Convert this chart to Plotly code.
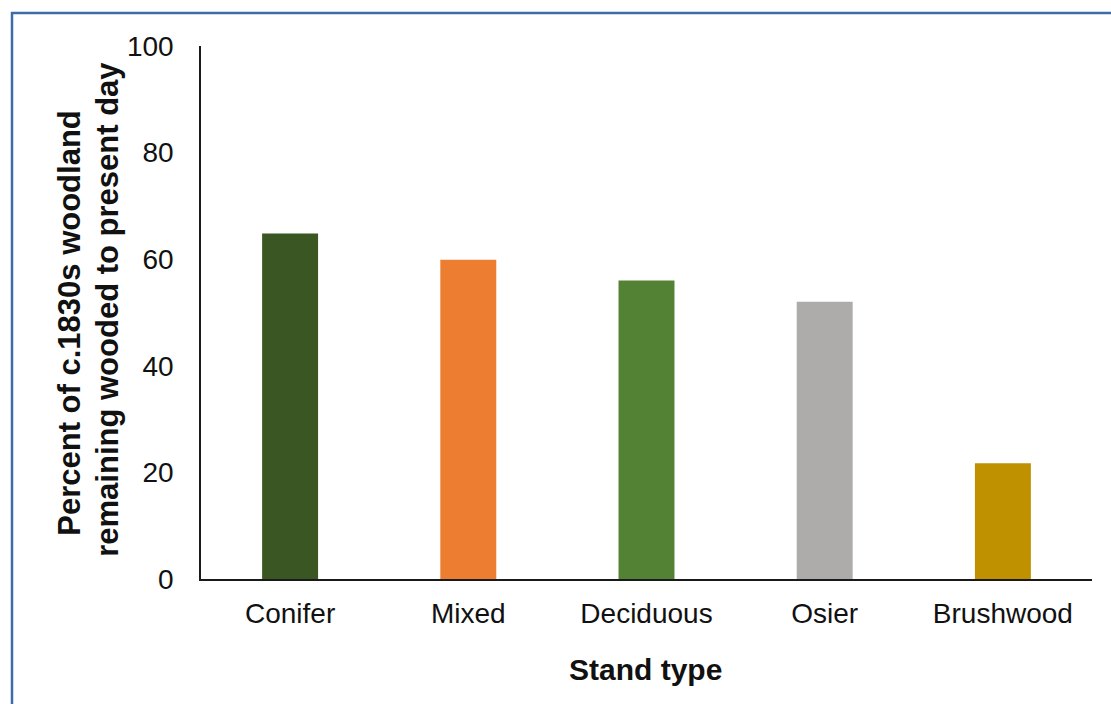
import plotly.graph_objects as go

# Stand types and share of c.1830s woodland still wooded today (%)
stand_types = ["Conifer", "Mixed", "Deciduous", "Osier", "Brushwood"]
percent_remaining = [64.8, 59.9, 56.0, 52.0, 21.7]
bar_colors = ["#3A5723", "#ED7D31", "#548235", "#AEABAB", "#BF9000"]

y_ticks = [0, 20, 40, 60, 80, 100]

W, H = 1111, 704
L, R, T, B = 201, 19, 46, 124.5
PW, PH = W - L - R, H - T - B


def px_x(px):
    return (px - L) / PW


def px_y(py):
    return (H - B - py) / PH


FONT = "Liberation Sans, Arial, sans-serif"

fig = go.Figure(
    go.Bar(
        x=stand_types,
        y=percent_remaining,
        marker=dict(color=bar_colors, line=dict(width=0)),
        hoverinfo="x+y",
    )
)

fig.update_layout(
    width=W,
    height=H,
    margin=dict(l=L, r=R, t=T, b=B, pad=0),
    paper_bgcolor="white",
    plot_bgcolor="white",
    bargap=0.686,
    showlegend=False,
    font=dict(family=FONT, color="#111111"),
)

fig.update_xaxes(
    showline=True,
    linecolor="#1a1a1a",
    linewidth=1.6,
    ticks="",
    showgrid=False,
    tickfont=dict(size=28, family=FONT, color="#111111"),
    ticklabelstandoff=9,
)

fig.update_yaxes(
    range=[0, 100],
    tickvals=y_ticks,
    showline=True,
    linecolor="#1a1a1a",
    linewidth=1.6,
    ticks="",
    showgrid=False,
    zeroline=False,
    tickfont=dict(size=28, family=FONT, color="#111111"),
    ticklabelstandoff=20,
)

# Axis titles
fig.add_annotation(
    text="<b>Percent of c.1830s woodland</b>",
    xref="paper", yref="paper",
    x=px_x(70), y=px_y(323),
    xanchor="center", yanchor="middle",
    textangle=-90, showarrow=False,
    font=dict(size=31, family=FONT, color="#111111"),
)
fig.add_annotation(
    text="<b>remaining wooded to present day</b>",
    xref="paper", yref="paper",
    x=px_x(108), y=px_y(310),
    xanchor="center", yanchor="middle",
    textangle=-90, showarrow=False,
    font=dict(size=31, family=FONT, color="#111111"),
)
fig.add_annotation(
    text="<b>Stand type</b>",
    xref="paper", yref="paper",
    x=px_x(645), y=px_y(670),
    xanchor="center", yanchor="middle",
    showarrow=False,
    font=dict(size=30, family=FONT, color="#111111"),
)

# Frame around the chart (left and top edges)
border_color = "#3F6BA8"
fig.add_shape(type="line", xref="paper", yref="paper",
              x0=px_x(12), x1=px_x(12), y0=px_y(12), y1=px_y(720),
              line=dict(color=border_color, width=2.5))
fig.add_shape(type="line", xref="paper", yref="paper",
              x0=px_x(11), x1=px_x(1130), y0=px_y(13), y1=px_y(13),
              line=dict(color=border_color, width=2.5))

fig.write_html("out.html")
